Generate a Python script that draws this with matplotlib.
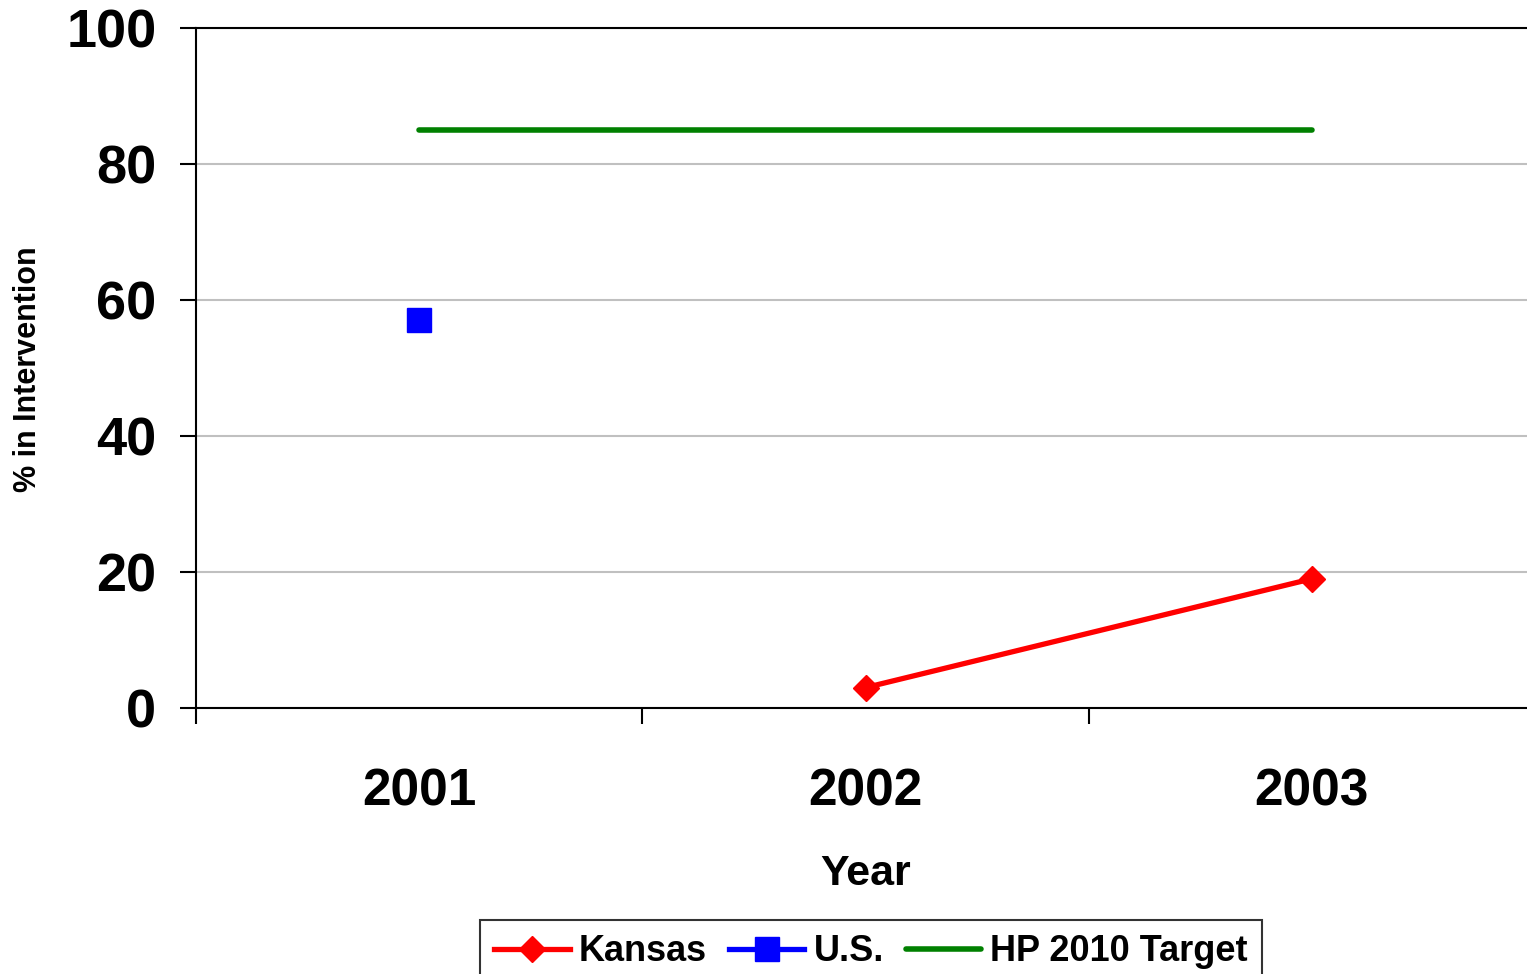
import matplotlib
matplotlib.use("Agg")
import matplotlib.pyplot as plt

plt.rcParams['font.family'] = ['Liberation Sans', 'DejaVu Sans']
plt.rcParams['font.weight'] = 'bold'

years = ['2001', '2002', '2003']
kansas_x = [1, 2]
kansas = [3, 19]
us_x = [0]
us = [57]
target_x = [0, 2]
target = [85, 85]
yticks = [0, 20, 40, 60, 80, 100]

W, H = 1527, 974
fig = plt.figure(figsize=(W / 100, H / 100), dpi=100)
ax = fig.add_axes([196 / W, 1 - 708 / H, (1535 - 196) / W, 680 / H])

ax.plot(kansas_x, kansas, color='#ff0000', lw=3.8, marker='D', ms=13.5,
        label='Kansas', zorder=3)
ax.plot(us_x, us, color='#0000ff', lw=3.8, marker='s', ms=17,
        linestyle='-', label='U.S.', zorder=3)
ax.plot(target_x, target, color='#008000', lw=4, label='HP 2010 Target',
        solid_capstyle='round', zorder=3)

ax.set_xlim(-0.5, 2.5)
ax.set_ylim(0, 100)
ax.set_yticks(yticks)
ax.set_yticklabels([str(v) for v in yticks], fontsize=39, fontweight='bold')
ax.yaxis.grid(True, color='#c0c0c0', lw=1.5)
ax.set_axisbelow(True)

ax.set_xticks(range(len(years)))
ax.set_xticklabels(years, fontsize=37, fontweight='bold')
ax.tick_params(axis='x', which='major', length=0, pad=43)
ax.set_xticks([-0.5, 0.5, 1.5, 2.5], minor=True)
ax.tick_params(axis='x', which='minor', length=11.5, width=1.5, direction='out')
ax.tick_params(axis='y', length=11.5, width=1.5, direction='out', pad=17)

for s in ['left', 'bottom', 'top']:
    ax.spines[s].set_linewidth(1.5)
ax.spines['right'].set_visible(False)

fig.text(866 / W, 1 - 874 / H, 'Year', fontsize=31, fontweight='bold',
         ha='center', va='center')
fig.text(28 / W, 1 - 369 / H, '% in Intervention', fontsize=22,
         fontweight='bold', rotation=90, ha='center', va='center')

leg = fig.legend(loc='upper center', bbox_to_anchor=(871 / W, 1 - 920 / H),
                 ncol=3, frameon=True, fancybox=False, edgecolor='black',
                 prop={'family': ['Liberation Sans', 'DejaVu Sans'],
                       'weight': 'bold', 'size': 26},
                 handlelength=2.1, handletextpad=0.25, columnspacing=0.6,
                 borderpad=0.4, borderaxespad=0, markerscale=1.0)
leg.get_frame().set_linewidth(1.5)

fig.savefig('out.png', dpi=100)
